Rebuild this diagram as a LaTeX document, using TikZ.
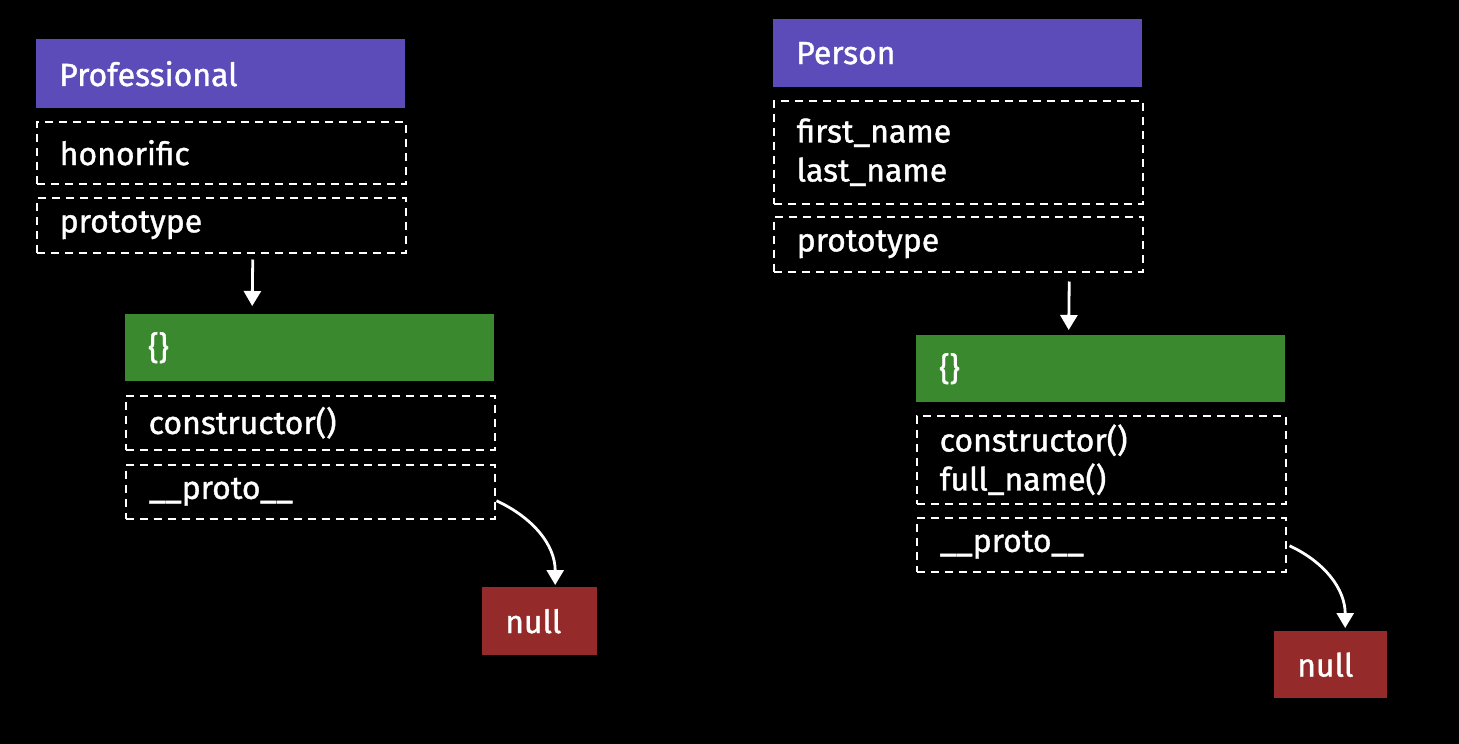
\documentclass[tikz,border=0pt]{standalone}
\usepackage{fontspec}
\setmainfont{Fira Sans}[FakeBold=1.2]
\usetikzlibrary{arrows.meta}
\definecolor{hpurple}{RGB}{91,76,185}
\definecolor{hgreen}{RGB}{58,137,46}
\definecolor{hred}{RGB}{149,42,42}
\begin{document}
\begin{tikzpicture}[x=1pt,y=-1pt,
  base/.style={anchor=north west, inner xsep=23pt, inner ysep=0pt, text width=323pt, align=left,
    text=white, font=\fontsize{32}{39}\selectfont},
  hdr/.style={base, fill=#1, draw=none},
  fld/.style={base, draw=white, line width=1.5pt, dash pattern=on 8pt off 6pt},
  nullbox/.style={base, fill=hred, text width=69pt, minimum height=68pt},
  arr/.style={draw=white, line width=2.8pt, -{Triangle[width=17pt,length=15pt]}}
]
\useasboundingbox[fill=black] (0,0) rectangle (1459,744);

% Left group
\node[hdr=hpurple, minimum height=69pt] (phead) at (36,39) {Professional};
\node[fld, minimum height=62pt] (phon) at (36,121) {honorific};
\node[fld, minimum height=55pt] (pproto) at (36,197) {prototype};
\node[hdr=hgreen, minimum height=67pt] (pobj) at (125,314) {\{\}};
\node[fld, minimum height=54pt] (pctor) at (125,395) {constructor()};
\node[fld, minimum height=54pt] (pprot2) at (125,464) {\_\_proto\_\_};
\node[nullbox] (pnull) at (482,587) {null};

% Right group
\node[hdr=hpurple, minimum height=68pt] (rhead) at (773,19) {Person};
\node[fld, minimum height=103pt] (rfields) at (773,100) {first\_name\\last\_name};
\node[fld, minimum height=55pt] (rproto) at (773,216) {prototype};
\node[hdr=hgreen, minimum height=67pt] (robj) at (916,335) {\{\}};
\node[fld, minimum height=88pt] (rmeth) at (916,415) {constructor()\\full\_name()};
\node[fld, minimum height=54pt] (rprot2) at (916,517) {\_\_proto\_\_};
\node[nullbox, minimum height=67pt, text width=67pt] (rnull) at (1274,631) {null};

% Connectors
\draw[arr] ([xshift=31.5pt,yshift=-6pt]pproto.south) -- ([xshift=-57.5pt,yshift=8pt]pobj.north);
\draw[arr] ([xshift=111pt,yshift=-9pt]rproto.south) -- ([xshift=-32pt,yshift=5pt]robj.north);
\draw[arr] ([xshift=1pt,yshift=-9pt]pprot2.east) to[out=-25,in=90] ([xshift=15.5pt,yshift=2pt]pnull.north);
\draw[arr] ([xshift=3pt,yshift=-1pt]rprot2.east) to[out=-25,in=90] ([xshift=14.5pt,yshift=3pt]rnull.north);
\end{tikzpicture}
\end{document}
